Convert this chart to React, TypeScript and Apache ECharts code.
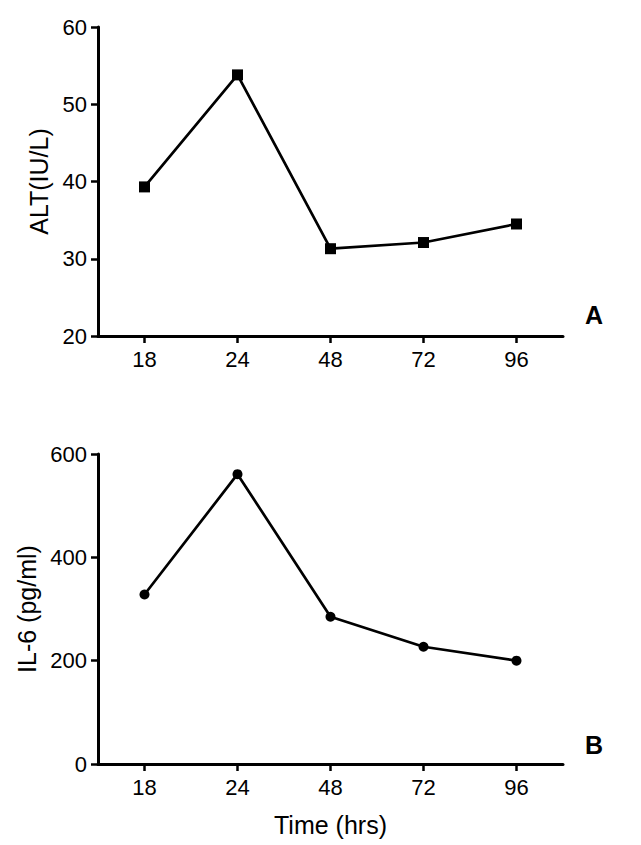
import React, { useEffect, useRef } from "react";
import * as echarts from "echarts";

const hours = ["18", "24", "48", "72", "96"];
const altValues = [39.3, 53.8, 31.3, 32.1, 34.5];
const il6Values = [328, 561, 285, 227, 200];

const FONT = "'Liberation Sans', Arial, sans-serif";

export default function App() {
  const ref = useRef<HTMLDivElement>(null);
  useEffect(() => {
    if (!ref.current) return;
    const chart = echarts.init(ref.current, null, { renderer: "svg" });
    const axisLine = { show: true, lineStyle: { color: "#000", width: 3 } };
    const axisTick = { show: true, length: 7, lineStyle: { color: "#000", width: 2.5 } };
    const axisLabel = { color: "#000", fontSize: 22, fontFamily: FONT };
    const nameStyle = { color: "#000", fontSize: 25, fontFamily: FONT };
    chart.setOption({
      animation: false,
      backgroundColor: "#fff",
      grid: [
        { left: 98, right: 78, top: 27, height: 309 },
        { left: 98, right: 78, top: 454, height: 310 },
      ],
      xAxis: [
        {
          type: "category", gridIndex: 0, data: hours, boundaryGap: true,
          axisLine, axisTick: { ...axisTick, alignWithLabel: true },
          axisLabel: { ...axisLabel, margin: 12 }, splitLine: { show: false },
        },
        {
          type: "category", gridIndex: 1, data: hours, boundaryGap: true,
          axisLine, axisTick: { ...axisTick, alignWithLabel: true },
          axisLabel: { ...axisLabel, margin: 12 }, splitLine: { show: false },
          name: "Time (hrs)", nameLocation: "middle", nameGap: 48, nameTextStyle: nameStyle,
        },
      ],
      yAxis: [
        {
          type: "value", gridIndex: 0, min: 20, max: 60, interval: 10,
          axisLine, axisTick, axisLabel: { ...axisLabel, margin: 11 }, splitLine: { show: false },
          name: "ALT(IU/L)", nameLocation: "middle", nameGap: 46, nameTextStyle: nameStyle,
        },
        {
          type: "value", gridIndex: 1, min: 0, max: 600, interval: 200,
          axisLine, axisTick, axisLabel: { ...axisLabel, margin: 11 }, splitLine: { show: false },
          name: "IL-6 (pg/ml)", nameLocation: "middle", nameGap: 46, nameTextStyle: nameStyle,
        },
      ],
      series: [
        {
          type: "line", xAxisIndex: 0, yAxisIndex: 0, data: altValues,
          symbol: "rect", symbolSize: 11,
          lineStyle: { color: "#000", width: 2.7 }, itemStyle: { color: "#000" },
        },
        {
          type: "line", xAxisIndex: 1, yAxisIndex: 1, data: il6Values,
          symbol: "circle", symbolSize: 10,
          lineStyle: { color: "#000", width: 2.7 }, itemStyle: { color: "#000" },
        },
      ],
      graphic: [
        { type: "text", left: 585, top: 302, style: { text: "A", fill: "#000", font: `bold 25px ${FONT}` } },
        { type: "text", left: 585, top: 732, style: { text: "B", fill: "#000", font: `bold 25px ${FONT}` } },
      ],
    });
    return () => chart.dispose();
  }, []);
  return <div ref={ref} style={{ width: 641, height: 845, position: "absolute", left: 0, top: 0 }} />;
}
